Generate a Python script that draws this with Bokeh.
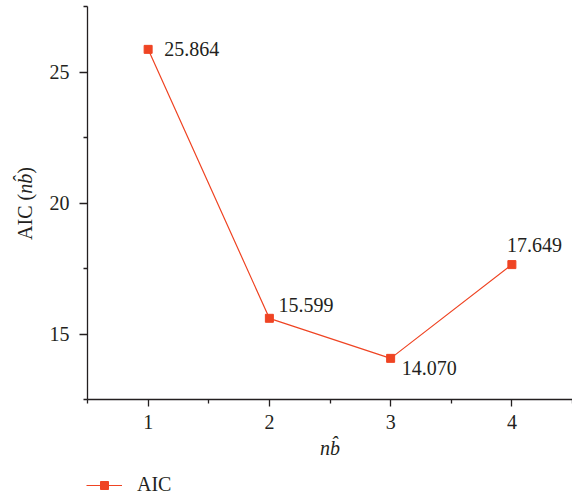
import math
from bokeh.plotting import figure
from bokeh.layouts import row, column
from bokeh.models import Range1d, FixedTicker, Label, Legend, LegendItem, ColumnDataSource
from bokeh.core.properties import value
from bokeh.embed import file_html
from bokeh.resources import INLINE

# ---- data ----
nb = [1, 2, 3, 4]
aic = [25.864, 15.599, 14.070, 17.649]
x_ticks = [1, 2, 3, 4]
x_minor = [0.5, 1.5, 2.5, 3.5, 4.5]
y_ticks = [15, 20, 25]
y_minor = [12.5, 17.5, 22.5, 27.5]
series_name = "AIC"
x_title = "nb\u0302"
y_title_parts = ["AIC (", "nb\u0302", ")"]

# ---- styling ----
label_dx = [16, 9, 11, -5]
label_dy = [0, -13, 10, -20]
FONT = "Liberation Serif"
FS = "20px"
RED = "#EF4423"
INK = "#231F20"
H = 470
TOP, BOTTOM = 6, 71


def bare(fig):
    fig.outline_line_color = None
    fig.background_fill_color = "white"
    fig.border_fill_color = "white"
    fig.xgrid.visible = False
    fig.ygrid.visible = False


# ---- main plot ----
p = figure(width=532, height=H,
           x_range=Range1d(0.5, 4.5), y_range=Range1d(12.5, 27.5),
           output_backend="svg", toolbar_location=None,
           min_border_left=47, min_border_right=0,
           min_border_top=TOP, min_border_bottom=BOTTOM)
bare(p)

p.xaxis.ticker = FixedTicker(ticks=x_ticks, minor_ticks=x_minor)
p.yaxis.ticker = FixedTicker(ticks=y_ticks, minor_ticks=y_minor)
for ax in (p.xaxis[0], p.yaxis[0]):
    ax.axis_line_color = INK
    ax.axis_line_width = 1.3
    ax.major_tick_line_color = INK
    ax.major_tick_line_width = 1.3
    ax.major_tick_in = 0
    ax.major_tick_out = 7
    ax.minor_tick_line_color = INK
    ax.minor_tick_line_width = 1.3
    ax.minor_tick_in = 0
    ax.minor_tick_out = 4
    ax.major_label_text_font = FONT
    ax.major_label_text_font_size = FS
    ax.major_label_text_color = INK
p.yaxis.major_tick_out = 8
p.yaxis.major_label_standoff = 10
p.xaxis.major_label_standoff = 8
p.xaxis.axis_label = x_title
p.xaxis.axis_label_text_font = FONT
p.xaxis.axis_label_text_font_style = "italic"
p.xaxis.axis_label_text_font_size = FS
p.xaxis.axis_label_text_color = INK
p.xaxis.axis_label_standoff = 5

p.line(nb, aic, line_color=RED, line_width=1.2)
p.scatter(nb, aic, marker="square", size=8, fill_color=RED, line_color=RED)

src = ColumnDataSource(dict(x=nb, y=aic, txt=[f"{v:.3f}" for v in aic],
                            dx=label_dx, dy=label_dy))
p.text(x="x", y="y", text="txt", x_offset="dx", y_offset="dy", source=src,
       text_font=value(FONT), text_font_size=FS, text_color=INK,
       text_align="left", text_baseline="middle")

# ---- y-axis title panel (frame aligned with main plot; units = px from canvas bottom) ----
t_fig = figure(width=40, height=H, x_range=Range1d(0, 40), y_range=Range1d(BOTTOM, H - TOP),
               output_backend="svg", toolbar_location=None,
               x_axis_location=None, y_axis_location=None, min_border=0,
               min_border_top=TOP, min_border_bottom=BOTTOM)
bare(t_fig)
fs_px = 20
widths = [2.305 * fs_px, 1.0 * fs_px, 0.333 * fs_px]
total = sum(widths)
pos = (H - 203) - total / 2
styles = ["normal", "italic", "normal"]
for part, w, st in zip(y_title_parts, widths, styles):
    t_fig.add_layout(Label(x=24, y=pos + w / 2, text=part, angle=math.pi / 2,
                           text_font=FONT, text_font_size=FS, text_font_style=st,
                           text_color=INK, text_align="center", text_baseline="middle"))
    pos += w

# ---- legend strip ----
l_fig = figure(width=572, height=31, x_range=Range1d(100, 101), y_range=Range1d(100, 101),
               output_backend="svg", toolbar_location=None,
               x_axis_location=None, y_axis_location=None, min_border=0)
bare(l_fig)
lr_line = l_fig.line(nb, aic, line_color=RED, line_width=1.2)
lr_pts = l_fig.scatter(nb, aic, marker="square", size=8, fill_color=RED, line_color=RED)
legend = Legend(items=[LegendItem(label=series_name, renderers=[lr_line, lr_pts])],
                location=(86, 5), orientation="vertical",
                border_line_color=None, background_fill_alpha=0,
                padding=0, margin=0, spacing=0,
                glyph_width=36, glyph_height=20, label_standoff=15,
                label_text_font=FONT, label_text_font_size=FS, label_text_color=INK)
l_fig.add_layout(legend)

layout = column(row(t_fig, p), l_fig)
open("out.html", "w").write(file_html(layout, INLINE))
